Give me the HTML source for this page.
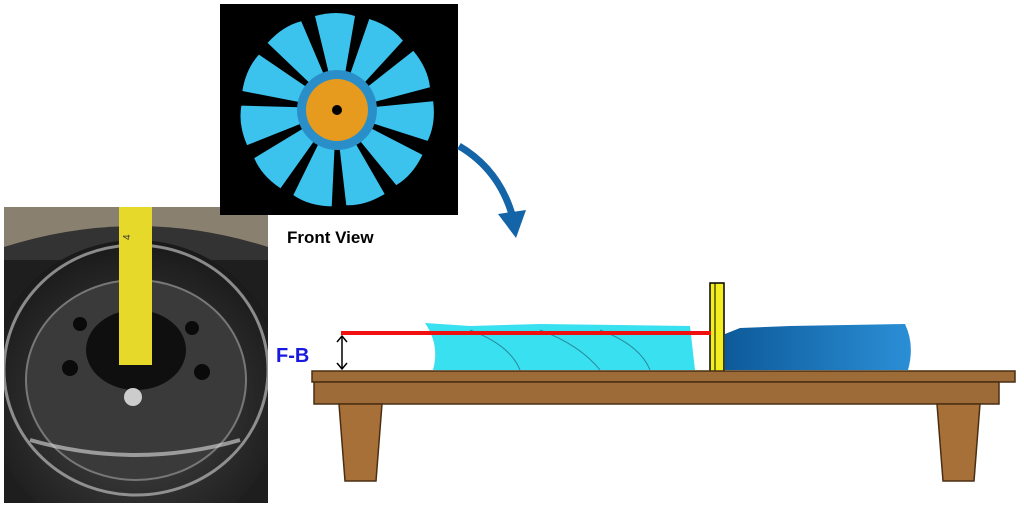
<!DOCTYPE html>
<html><head><style>html,body{margin:0;width:1024px;height:509px;background:#fff;overflow:hidden;position:relative;font-family:"Liberation Sans",sans-serif}svg{display:block;overflow:hidden}</style></head>
<body>
<svg width="1024" height="509" viewBox="0 0 1024 509" style="position:absolute;left:0;top:0">
<defs>
<radialGradient id="rim" cx="50%" cy="55%" r="60%"><stop offset="0" stop-color="#4a4a4a"/><stop offset="0.6" stop-color="#2a2a2a"/><stop offset="1" stop-color="#151515"/></radialGradient>
<linearGradient id="blue" x1="0" x2="1"><stop offset="0" stop-color="#0d5a9a"/><stop offset="1" stop-color="#2b8fd6"/></linearGradient>
<clipPath id="pc"><rect x="4" y="207" width="264" height="296"/></clipPath>
</defs>
<g clip-path="url(#pc)">
<rect x="4" y="207" width="264" height="296" fill="#1e1e1e"/>
<rect x="4" y="207" width="264" height="40" fill="#8a8070"/>
<path d="M4 247 Q136 205 268 247 L268 260 L4 260Z" fill="#333"/>
<ellipse cx="136" cy="390" rx="150" ry="150" fill="url(#rim)"/>
<ellipse cx="136" cy="370" rx="132" ry="125" fill="none" stroke="#bbb" stroke-width="3" opacity="0.7"/>
<ellipse cx="136" cy="380" rx="110" ry="100" fill="#3a3a3a" stroke="#777" stroke-width="2"/>
<ellipse cx="136" cy="350" rx="50" ry="40" fill="#0f0f0f"/>
<circle cx="80" cy="324" r="7" fill="#0a0a0a"/><circle cx="192" cy="328" r="7" fill="#0a0a0a"/>
<circle cx="70" cy="368" r="8" fill="#0a0a0a"/><circle cx="202" cy="372" r="8" fill="#0a0a0a"/>
<circle cx="133" cy="397" r="9" fill="#ccc"/>
<path d="M30 440 Q136 470 240 440" stroke="#ddd" stroke-width="4" fill="none" opacity="0.6"/>
<rect x="119" y="207" width="33" height="158" fill="#e7d92a"/>
<text x="130" y="240" font-size="10" fill="#333" transform="rotate(-90 130 240)">4</text>
</g>
<rect x="220" y="4" width="238" height="211" fill="#000"/>
<g transform="translate(337,110)">
<g fill="#3bc3ee">
<path id="bl" d="M-8,-36 L-22,-94 Q0,-100 18,-94 L8,-36Z"/>
<use href="#bl" transform="rotate(32.7)"/><use href="#bl" transform="rotate(65.4)"/><use href="#bl" transform="rotate(98)"/><use href="#bl" transform="rotate(130.9)"/><use href="#bl" transform="rotate(163.6)"/><use href="#bl" transform="rotate(196.3)"/><use href="#bl" transform="rotate(229)"/><use href="#bl" transform="rotate(261.8)"/><use href="#bl" transform="rotate(294.5)"/><use href="#bl" transform="rotate(327.2)"/>
</g>
<circle r="40" fill="#2a8fc8"/>
<circle r="31" fill="#e69a1e"/>
<circle r="5" fill="#000"/>
</g>
<text x="287" y="243" font-size="17" font-weight="bold">Front View</text>
<path d="M459 146 Q500 170 513 218" stroke="#1464a8" stroke-width="7" fill="none"/>
<path d="M498 214 L526 210 L516 238Z" fill="#1464a8"/>
<path d="M425 323 L470 326 L540 324 L690 326 L695 370 L433 370 Q440 345 425 323Z" fill="#38e0f0"/>
<path d="M470 330 Q510 345 520 370 M540 330 Q580 345 600 370 M600 330 Q640 345 650 370" stroke="#2a8aa0" fill="none"/>
<path d="M725 334 L740 328 L790 326 L905 324 Q915 345 908 370 L725 370Z" fill="url(#blue)"/>
<rect x="710" y="283" width="14" height="89" fill="#f3ee20" stroke="#000" stroke-width="1.5"/>
<line x1="715" y1="283" x2="715" y2="372" stroke="#000"/>
<rect x="341" y="331" width="370" height="4" fill="#f01010"/>
<line x1="342" y1="337" x2="342" y2="368" stroke="#000" stroke-width="1.5"/>
<path d="M337 342 L342 336 L347 342 M337 363 L342 369 L347 363" stroke="#000" stroke-width="1.5" fill="none"/>
<text x="276" y="362" font-size="20" font-weight="bold" fill="#1818e0">F-B</text>
<rect x="312" y="371" width="703" height="11" fill="#9c6b37" stroke="#4a2e12" stroke-width="1.5"/>
<rect x="314" y="382" width="685" height="22" fill="#9c6b37" stroke="#4a2e12" stroke-width="1.5"/>
<path d="M339 404 L382 404 L376 481 L345 481Z" fill="#a87039" stroke="#4a2e12" stroke-width="1.5"/>
<path d="M937 404 L980 404 L974 481 L943 481Z" fill="#a87039" stroke="#4a2e12" stroke-width="1.5"/>
</svg>
</body></html>
